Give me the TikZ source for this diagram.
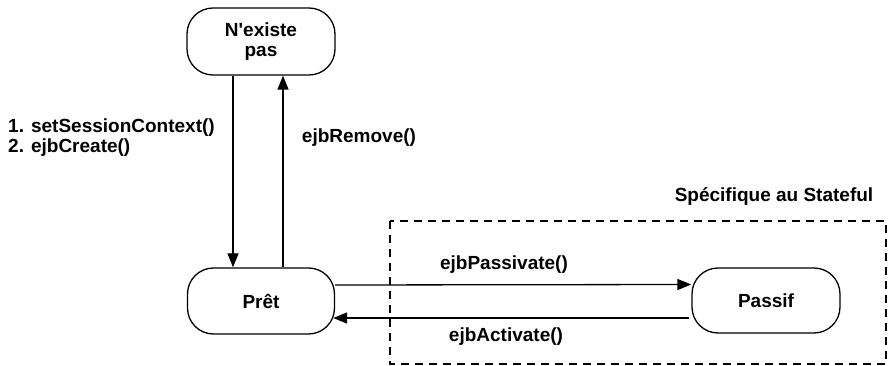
\documentclass[tikz,border=0pt]{standalone}
\usepackage{fontspec}
\setmainfont{Liberation Sans}[Ligatures=TeXOff]
\usetikzlibrary{arrows.meta}
\begin{document}
\begin{tikzpicture}[x=1pt,y=-1pt,
  every node/.style={font=\fontsize{19}{20}\selectfont\bfseries},
  state/.style={draw,line width=1.3pt,rounded corners=26pt,inner sep=0pt,align=center},
  arr/.style={line width=1.3pt,-{Triangle[length=14pt,width=11pt]}},
  lbl/.style={inner sep=0pt,align=left}]
\useasboundingbox (0,0) rectangle (889,366);
\fill[white] (0,0) rectangle (889,366);
\draw[line width=1.1pt,dash pattern=on 8pt off 6pt] (390,221) rectangle (886,364);
\node[state,minimum width=148pt,minimum height=67pt] (nex) at (261,41.5) {N'existe\\pas};
\node[state,minimum width=147pt,minimum height=66pt] (pret) at (261,301) {Prêt};
\node[state,minimum width=148pt,minimum height=65pt] (pas) at (766,300.5) {Passif};
\draw[arr] ([xshift=-28pt]nex.south) -- ([xshift=-28pt]pret.north);
\draw[arr] ([xshift=22pt]pret.north) -- ([xshift=22pt]nex.south);
\draw[arr] ([yshift=16pt]pret.east) -- ([yshift=16pt]pas.west);
\draw[arr] ([yshift=-17.5pt,xshift=-2pt]pas.west) -- ([yshift=-17pt,xshift=-2pt]pret.east);
\node[lbl,anchor=west] (l1) at (8,138) {1. setSessionContext()\\2. ejbCreate()};
\node[lbl] (l2) at (359,138) {ejbRemove()};
\node[lbl] (l3) at (504,265) {ejbPassivate()};
\node[lbl] (l4) at (506,337) {ejbActivate()};
\node[lbl] (l5) at (774,197) {Spécifique au Stateful};
\end{tikzpicture}
\end{document}
